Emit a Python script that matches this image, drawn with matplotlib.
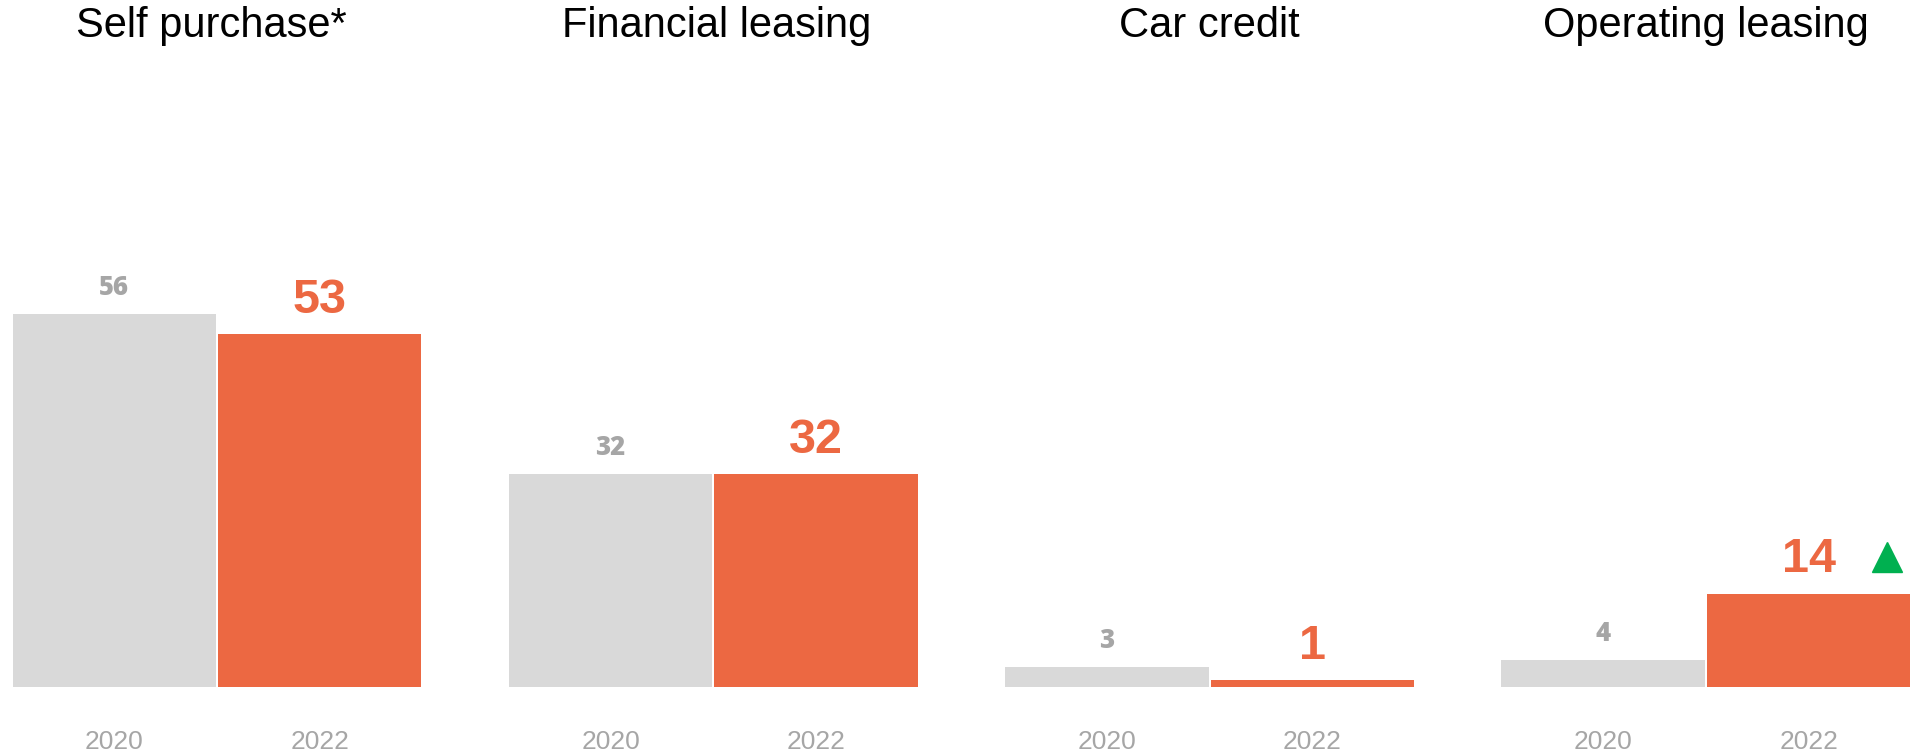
import matplotlib
matplotlib.use("Agg")
import matplotlib.pyplot as plt
import numpy as np

# chart data
categories = ["Self purchase*", "Financial leasing", "Car credit", "Operating leasing"]
years = ["2020", "2022"]
values_2020 = [56, 32, 3, 4]
values_2022 = [53, 32, 1, 14]
trend_up = [False, False, False, True]

GRAY = "#D9D9D9"
ORANGE = "#EC6842"
LABEL_GRAY = "#A6A6A6"
GREEN = "#00B050"

fig = plt.figure(figsize=(19.21, 7.55), dpi=100)
ax = fig.add_axes([0, 0, 1, 1])

x = np.arange(len(categories))
off = 0.207
w = 0.41

ax.bar(x - off, values_2020, width=w, color=GRAY, edgecolor="white", linewidth=0)
ax.bar(x + off, values_2022, width=w, color=ORANGE, edgecolor="white", linewidth=0)

title_shift = [-0.012, 0.006, 0.0, 0.0]
for i, cat in enumerate(categories):
    ax.text(x[i] + title_shift[i], 99.2, cat, ha="center", va="center", fontsize=30,
            family="Liberation Sans", color="black")
    ax.text(x[i] - off, values_2020[i] + 2.9, str(values_2020[i]), ha="center",
            va="baseline", fontsize=18.5, fontweight="heavy", family="Open Sans",
            color=LABEL_GRAY)
    ax.text(x[i] + off, values_2022[i] + 3.2, str(values_2022[i]), ha="center",
            va="baseline", fontsize=35, fontweight="bold", family="Liberation Sans",
            color=ORANGE)
    for j, yr in enumerate(years):
        ax.text(x[i] + (off if j else -off), -8.2, yr, ha="center", va="center",
                fontsize=19, family="Liberation Sans", color=LABEL_GRAY)
    if trend_up[i]:
        ax.plot(x[i] + 0.365, values_2022[i] + 5.5, marker="^", markersize=22,
                color=GREEN, linestyle="none")

ax.set_xlim(-217 / 496.3, (1921 - 217) / 496.3)
ax.set_ylim(-68 / 6.66, (755 - 68) / 6.66)
ax.axis("off")

fig.savefig("out.png", dpi=100, facecolor="white")
